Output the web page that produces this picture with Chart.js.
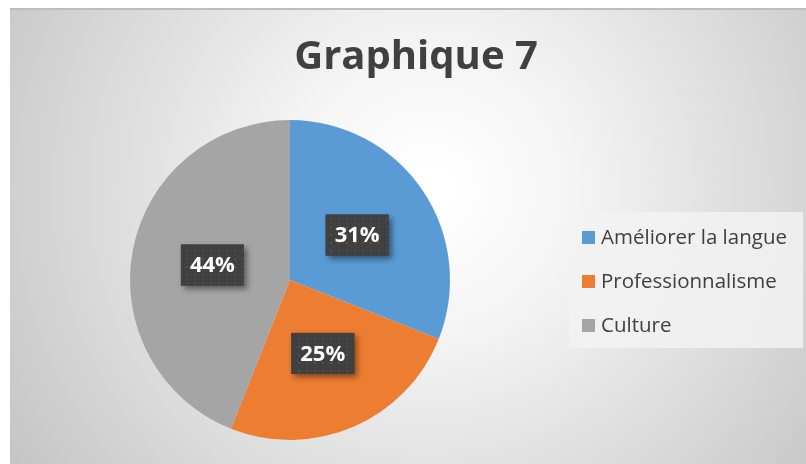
<!DOCTYPE html>
<html>
<head>
<meta charset="utf-8">
<script src="https://cdn.jsdelivr.net/npm/chart.js@4.4.0/dist/chart.umd.min.js"></script>
<style>
  html, body { margin: 0; padding: 0; background: #ffffff; }
  #wrap { width: 806px; height: 464px; position: relative; }
</style>
</head>
<body>
<div id="wrap"><canvas id="pieChart" width="806" height="464"></canvas></div>
<script>
// Chart data
const titleText = "Graphique 7";
const categories = ["Améliorer la langue", "Professionnalisme", "Culture"];
const shares = [31, 25, 44];
const sliceColors = ["#5B9BD5", "#ED7D31", "#A5A5A5"];

// Dotted pattern for the data label boxes
function makeLabelPattern(ctx) {
    const p = document.createElement("canvas");
    p.width = 8;
    p.height = 8;
    const pc = p.getContext("2d");
    pc.fillStyle = "#404040";
    pc.fillRect(0, 0, 8, 8);
    pc.fillStyle = "#505050";
    pc.fillRect(2, 2, 2, 2);
    return ctx.createPattern(p, "repeat");
}

// Background with soft radial gradient and top border
const backgroundPlugin = {
    id: "bgPanel",
    beforeDraw(chart) {
        const ctx = chart.ctx;
        ctx.save();
        ctx.fillStyle = "#ffffff";
        ctx.fillRect(0, 0, chart.width, chart.height);
        const g = ctx.createRadialGradient(430, 190, 20, 430, 190, 520);
        g.addColorStop(0, "#ffffff");
        g.addColorStop(0.25, "#f4f4f4");
        g.addColorStop(1, "#c2c2c2");
        ctx.fillStyle = g;
        ctx.fillRect(10, 8, chart.width - 10, chart.height - 8);
        ctx.fillStyle = "#bdbdbd";
        ctx.fillRect(10, 8, chart.width - 10, 2);
        ctx.restore();
    }
};

// Title, legend and percentage labels
const overlayPlugin = {
    id: "overlay",
    afterDatasetsDraw(chart) {
        const ctx = chart.ctx;
        ctx.save();

        // title
        ctx.fillStyle = "#404040";
        ctx.font = "bold 40px 'Open Sans', sans-serif";
        ctx.textAlign = "center";
        ctx.textBaseline = "middle";
        ctx.fillText(titleText, 416, 58);

        // legend box
        ctx.fillStyle = "rgba(242, 242, 242, 0.85)";
        ctx.fillRect(569, 212, 234, 136);
        ctx.font = "20.5px 'Open Sans', sans-serif";
        ctx.textAlign = "left";
        categories.forEach((name, i) => {
            const y = 237 + i * 44;
            ctx.fillStyle = sliceColors[i];
            ctx.fillRect(582, y - 6, 13, 13);
            ctx.fillStyle = "#404040";
            ctx.fillText(name, 601, y + 1);
        });

        // data labels
        const meta = chart.getDatasetMeta(0);
        const total = shares.reduce((a, b) => a + b, 0);
        const pattern = makeLabelPattern(ctx);
        meta.data.forEach((arc, i) => {
            const pos = arc.tooltipPosition();
            const w = 63, h = 41;
            const x = pos.x - w / 2 + 1, y = pos.y - h / 2;
            ctx.save();
            ctx.shadowColor = "rgba(0, 0, 0, 0.45)";
            ctx.shadowBlur = 6;
            ctx.shadowOffsetX = 3;
            ctx.shadowOffsetY = 3;
            ctx.fillStyle = "#404040";
            ctx.fillRect(x, y, w, h);
            ctx.restore();
            ctx.fillStyle = pattern;
            ctx.fillRect(x, y, w, h);
            ctx.fillStyle = "#ffffff";
            ctx.font = "bold 22px 'Open Sans', sans-serif";
            ctx.textAlign = "center";
            ctx.fillText(Math.round(shares[i] / total * 100) + "%", pos.x + 1, pos.y + 1);
        });
        ctx.restore();
    }
};

const ctx = document.getElementById("pieChart").getContext("2d");
new Chart(ctx, {
    type: "pie",
    data: {
        labels: categories,
        datasets: [{
            data: shares,
            backgroundColor: sliceColors,
            borderWidth: 0
        }]
    },
    options: {
        responsive: false,
        animation: false,
        layout: {
            padding: { top: 120, bottom: 24, left: 130, right: 356 }
        },
        plugins: {
            legend: { display: false },
            tooltip: { enabled: false },
            title: { display: false }
        }
    },
    plugins: [backgroundPlugin, overlayPlugin]
});
</script>
</body>
</html>
